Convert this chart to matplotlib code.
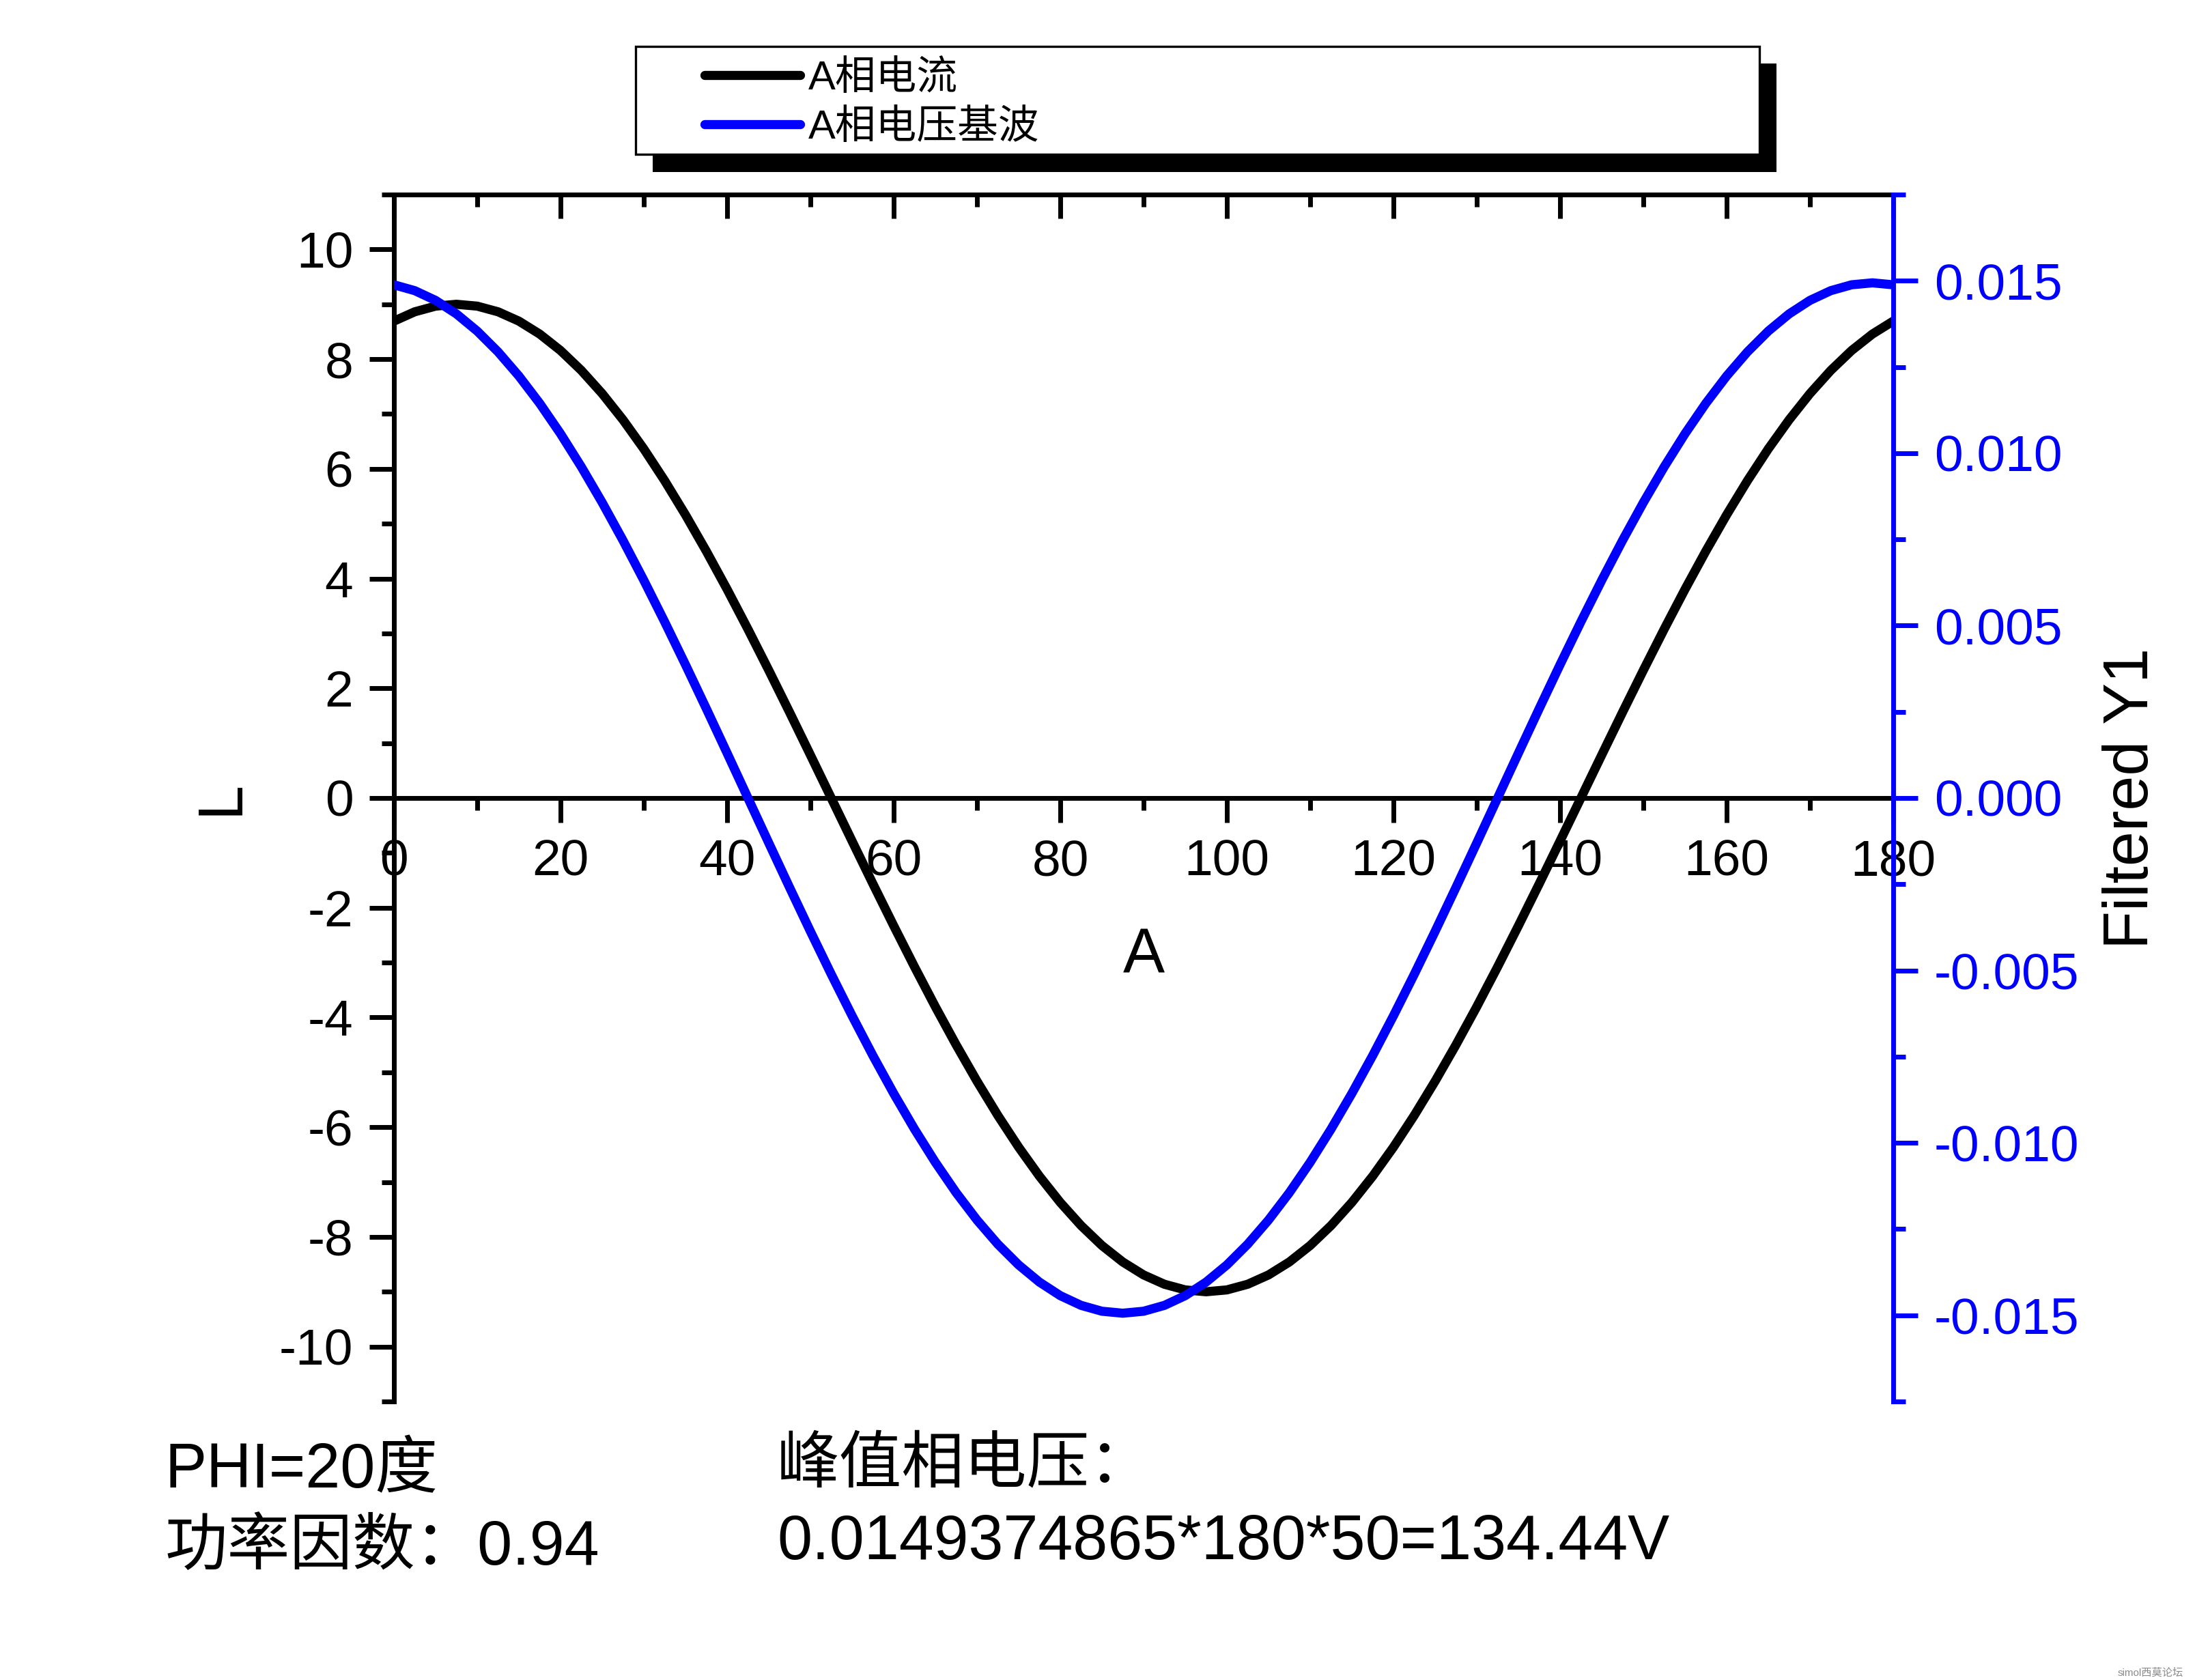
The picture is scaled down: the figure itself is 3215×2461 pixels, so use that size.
import matplotlib
matplotlib.use("Agg")
import matplotlib.pyplot as plt
from matplotlib.patches import Rectangle
from matplotlib.ticker import MultipleLocator, FuncFormatter, NullFormatter

plt.rcParams['font.family'] = ['Liberation Sans', 'Noto Sans CJK SC']
plt.rcParams['axes.unicode_minus'] = False

# values, every 2.5 units along A
angle = [0, 2.5, 5, 7.5, 10, 12.5, 15, 17.5, 20, 22.5, 25, 27.5, 30, 32.5, 35, 37.5,
         40, 42.5, 45, 47.5, 50, 52.5, 55, 57.5, 60, 62.5, 65, 67.5, 70, 72.5, 75,
         77.5, 80, 82.5, 85, 87.5, 90, 92.5, 95, 97.5, 100, 102.5, 105, 107.5, 110,
         112.5, 115, 117.5, 120, 122.5, 125, 127.5, 130, 132.5, 135, 137.5, 140,
         142.5, 145, 147.5, 150, 152.5, 155, 157.5, 160, 162.5, 165, 167.5, 170,
         172.5, 175, 177.5, 180]
current_a = [8.693, 8.863, 8.966, 9.000, 8.966, 8.863, 8.693, 8.457, 8.157, 7.794,
             7.372, 6.894, 6.364, 5.785, 5.162, 4.500, 3.804, 3.078, 2.329, 1.563,
             0.784, 0.0, -0.784, -1.563, -2.329, -3.078, -3.804, -4.500, -5.162,
             -5.785, -6.364, -6.894, -7.372, -7.794, -8.157, -8.457, -8.693, -8.863,
             -8.966, -9.000, -8.966, -8.863, -8.693, -8.457, -8.157, -7.794, -7.372,
             -6.894, -6.364, -5.785, -5.162, -4.500, -3.804, -3.078, -2.329, -1.563,
             -0.784, 0.0, 0.784, 1.563, 2.329, 3.078, 3.804, 4.500, 5.162, 5.785,
             6.364, 6.894, 7.372, 7.794, 8.157, 8.457, 8.693]
voltage_a = [0.014883, 0.014713, 0.014431, 0.014039, 0.013540, 0.012938, 0.012238,
             0.011445, 0.010564, 0.009603, 0.008569, 0.007470, 0.006314, 0.005110,
             0.003867, 0.002594, 0.001302, 0.0, -0.001302, -0.002594, -0.003867,
             -0.005110, -0.006314, -0.007470, -0.008569, -0.009603, -0.010564,
             -0.011445, -0.012238, -0.012938, -0.013540, -0.014039, -0.014431,
             -0.014713, -0.014883, -0.014940, -0.014883, -0.014713, -0.014431,
             -0.014039, -0.013540, -0.012938, -0.012238, -0.011445, -0.010564,
             -0.009603, -0.008569, -0.007470, -0.006314, -0.005110, -0.003867,
             -0.002594, -0.001302, 0.0, 0.001302, 0.002594, 0.003867, 0.005110,
             0.006314, 0.007470, 0.008569, 0.009603, 0.010564, 0.011445, 0.012238,
             0.012938, 0.013540, 0.014039, 0.014431, 0.014713, 0.014883, 0.014940,
             0.014883]

W, H = 3216, 2461


def fx(px):
    return px / W


def fy(py):
    return 1 - py / H


fig = plt.figure(figsize=(W / 200, H / 200), dpi=200)
ax = fig.add_axes([fx(577), fy(2053), (2773 - 577) / W, (2053 - 285) / H])

line_i, = ax.plot(angle, current_a, color='black', lw=4.8, label='A相电流',
                  solid_capstyle='round', solid_joinstyle='round')
ax.set_xlim(0, 180)
ax.set_ylim(-11, 11)
ax.spines['bottom'].set_position(('data', 0))
ax.spines['right'].set_visible(False)
ax.spines['top'].set_visible(False)
for s in ['left', 'bottom']:
    ax.spines[s].set_linewidth(2.5)
ax.xaxis.set_major_locator(MultipleLocator(20))
ax.xaxis.set_minor_locator(MultipleLocator(10))
ax.yaxis.set_major_locator(MultipleLocator(2))
ax.yaxis.set_minor_locator(MultipleLocator(1))
ax.tick_params(which='both', direction='out', width=2.5, labelsize=27, pad=8.5)
ax.tick_params(which='major', length=13)
ax.tick_params(which='minor', length=6.5)
ax.set_xlabel('A', fontsize=33, labelpad=22)
ax.set_ylabel('L', fontsize=33, labelpad=15)

# top axis: ticks only, pointing inward
sec = ax.secondary_xaxis('top')
sec.xaxis.set_major_locator(MultipleLocator(20))
sec.xaxis.set_minor_locator(MultipleLocator(10))
sec.xaxis.set_major_formatter(NullFormatter())
sec.spines['top'].set_linewidth(2.5)
sec.tick_params(which='both', direction='in', width=2.5)
sec.tick_params(which='major', length=12.5)
sec.tick_params(which='minor', length=6.5)

ax2 = ax.twinx()
line_v, = ax2.plot(angle, voltage_a, color='blue', lw=4.8, label='A相电压基波',
                   solid_capstyle='round', solid_joinstyle='round')
ax2.set_ylim(-0.0175, 0.0175)
for s in ['left', 'top', 'bottom']:
    ax2.spines[s].set_visible(False)
ax2.spines['right'].set_color('blue')
ax2.spines['right'].set_linewidth(2.5)
ax2.yaxis.set_major_locator(MultipleLocator(0.005))
ax2.yaxis.set_minor_locator(MultipleLocator(0.0025))
ax2.yaxis.set_major_formatter(FuncFormatter(lambda v, p: '0.000' if abs(v) < 1e-9 else f'{v:.3f}'))
ax2.tick_params(axis='y', which='both', direction='out', colors='blue', width=2.5,
                labelsize=27, pad=8.5)
ax2.tick_params(axis='y', which='major', length=13)
ax2.tick_params(axis='y', which='minor', length=6.5)
ax2.set_ylabel('Filtered Y1', fontsize=33, labelpad=12)

# legend box with hard shadow
shadow = Rectangle((fx(956), fy(252)), (2602 - 956) / W, (252 - 93) / H,
                   transform=fig.transFigure, facecolor='black', edgecolor='none', zorder=1)
frame = Rectangle((fx(931), fy(226)), (2577 - 931) / W, (226 - 68) / H,
                  transform=fig.transFigure, facecolor='white', edgecolor='black',
                  lw=1.2, zorder=2)
fig.add_artist(shadow)
fig.add_artist(frame)
leg = fig.legend(handles=[line_i, line_v], loc='upper left',
                 bbox_to_anchor=(fx(1032), fy(88)), frameon=False, fontsize=21.5,
                 handlelength=2.35, handletextpad=0.2, labelspacing=0.29,
                 borderpad=0, borderaxespad=0)
leg.set_zorder(5)

# notes under the plot
fig.text(fx(242), fy(2179), 'PHI=20度', fontsize=33, va='baseline')
fig.text(fx(242), fy(2292), '功率因数：0.94', fontsize=33, va='baseline')
fig.text(fx(1138), fy(2172), '峰值相电压：', fontsize=33, va='baseline')
fig.text(fx(1138), fy(2284), '0.0149374865*180*50=134.44V', fontsize=33, va='baseline')

fig.text(fx(3198), fy(2455), 'simol西莫论坛', fontsize=5.5, color='#8a8a8a',
         ha='right', va='baseline')

fig.savefig('out.png', dpi=200)
